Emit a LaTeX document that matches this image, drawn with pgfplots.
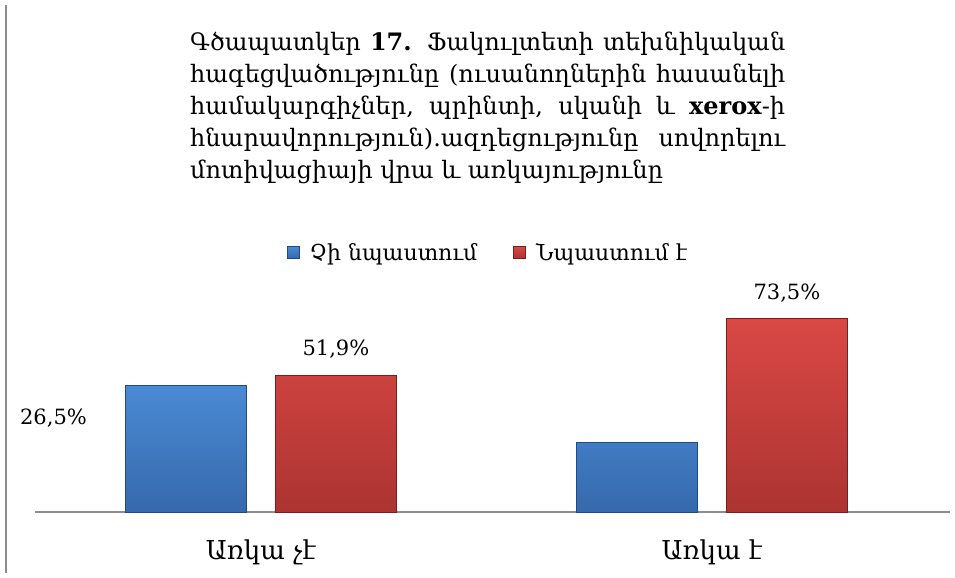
\documentclass[border=0pt]{standalone}
\usepackage{pgfplots}
\pgfplotsset{compat=1.18}
\usepackage{fontspec}
\setmainfont{DejaVu Serif}
\definecolor{bTop}{HTML}{4A8AD4}
\definecolor{bBot}{HTML}{3669AC}
\definecolor{bEdge}{HTML}{1F4A85}
\definecolor{rTop}{HTML}{D94845}
\definecolor{rBot}{HTML}{AC3431}
\definecolor{rEdge}{HTML}{7A1E1C}
\definecolor{axgray}{HTML}{8C8C8C}
\begin{document}
\begin{tikzpicture}
\useasboundingbox (0,0) rectangle (955bp,578bp);
\draw[axgray, line width=2bp] (6bp,5bp) -- (6bp,573bp);
\node[anchor=north west, inner sep=0pt, text width=595bp, align=justify,
      font=\fontsize{24bp}{32bp}\selectfont] at (190bp,546bp)
{Գծապատկեր \textbf{17.} Ֆակուլտետի տեխնիկական\linebreak
հագեցվածությունը (ուսանողներին հասանելի\linebreak
համակարգիչներ, պրինտի, սկանի և \textbf{xerox}-ի\linebreak
հնարավորություն).ազդեցությունը սովորելու\linebreak
մոտիվացիայի վրա և առկայությունը};
\begin{axis}[
  at={(35bp,66bp)}, anchor=south west,
  scale only axis, width=915bp, height=210.4bp,
  xmin=-0.501, xmax=1.528, ymin=0, ymax=80,
  ybar=29bp, bar width=121bp,
  axis x line=bottom, axis y line=none,
  x axis line style={axgray, line width=1.8bp, -},
  xtick={0,1}, xticklabels={Առկա չէ, Առկա է},
  xtick style={draw=none},
  ytick=\empty,
  every x tick label/.append style={font=\fontsize{26bp}{30bp}\selectfont, anchor=center, yshift=-38bp},
  legend columns=2,
  legend style={draw=none, fill=none, at={(0.495,1.23)}, anchor=center,
                font=\fontsize{22bp}{24bp}\selectfont,
                /tikz/every odd column/.append style={column sep=8bp},
                /tikz/every even column/.append style={column sep=34bp}},
  legend image code/.code={\draw[#1] (0bp,-5bp) rectangle (12bp,7bp);},
  clip=false,
]
\addplot[top color=bTop, bottom color=bBot, draw=bEdge, line width=0.8bp]
  coordinates {(0,48.1) (1,26.5)};
\addplot[top color=rTop, bottom color=rBot, draw=rEdge, line width=0.8bp,
  point meta=explicit symbolic,
  nodes near coords,
  nodes near coords style={anchor=center, yshift=26bp, font=\fontsize{21bp}{24bp}\selectfont, text=black}]
  coordinates {(0,51.9) [51,9\%] (1,73.5) [73,5\%]};
\legend{Չի նպաստում, Նպաստում է}
\node[font=\fontsize{21bp}{24bp}\selectfont] at (axis cs:-0.46,35.7) {26,5\%};
\end{axis}
\end{tikzpicture}
\end{document}
